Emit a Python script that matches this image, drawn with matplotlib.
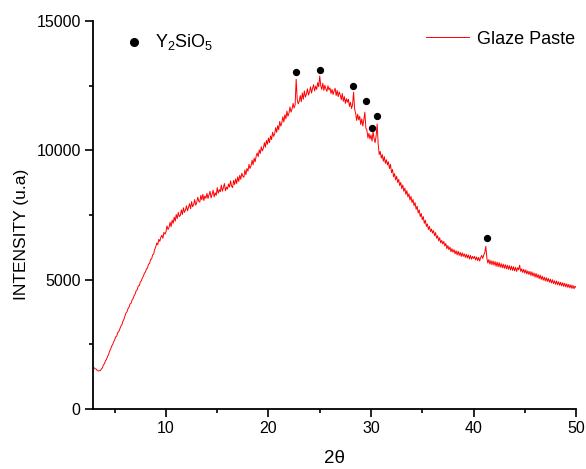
import numpy as np
import matplotlib
matplotlib.use("Agg")
import matplotlib.pyplot as plt
from matplotlib.ticker import MultipleLocator

plt.rcParams['font.family'] = ['Liberation Sans', 'DejaVu Sans']
plt.rcParams['mathtext.fontset'] = 'custom'
plt.rcParams['mathtext.rm'] = 'Liberation Sans'
plt.rcParams['mathtext.it'] = 'Liberation Sans'
plt.rcParams['mathtext.default'] = 'regular'

# 2-theta grid (0.1 deg steps from 3.0 to 50.0)
two_theta = np.round(np.arange(3.0, 50.05, 0.1), 1)

# intensity, one row per degree
intensity = [
    1590, 1550, 1540, 1490, 1470, 1480, 1480, 1550, 1590, 1700,   # 3
    1750, 1860, 1920, 2030, 2100, 2240, 2310, 2430, 2490, 2600,   # 4
    2670, 2790, 2820, 2960, 2990, 3100, 3200, 3260, 3390, 3470,   # 5
    3600, 3710, 3760, 3880, 3940, 4060, 4090, 4220, 4270, 4390,   # 6
    4450, 4580, 4610, 4760, 4770, 4910, 4960, 5070, 5140, 5250,   # 7
    5300, 5420, 5450, 5600, 5620, 5780, 5800, 5960, 5990, 6170,   # 8
    6260, 6420, 6350, 6560, 6480, 6640, 6720, 6600, 6830, 6760,   # 9
    6850, 7080, 6940, 7020, 7220, 7050, 7300, 7180, 7420, 7260,   # 10
    7520, 7360, 7600, 7440, 7480, 7700, 7520, 7780, 7600, 7690,   # 11
    7860, 7660, 7800, 7940, 7740, 8020, 7820, 7900, 8100, 7880,   # 12
    7980, 8190, 8040, 8000, 8260, 8090, 8300, 8060, 8240, 8150,   # 13
    8340, 8140, 8280, 8420, 8160, 8300, 8460, 8200, 8360, 8260,   # 14
    8560, 8340, 8480, 8400, 8660, 8420, 8560, 8720, 8440, 8580,   # 15
    8500, 8700, 8580, 8820, 8620, 8560, 8840, 8680, 8900, 8720,   # 16
    8980, 8800, 9040, 8880, 9120, 9000, 8960, 9240, 9060, 9300,   # 17
    9200, 9460, 9300, 9400, 9620, 9440, 9700, 9560, 9780, 9900,   # 18
    9760, 10020, 9880, 10140, 9980, 10080, 10300, 10120, 10380, 10240,  # 19
    10480, 10300, 10560, 10420, 10700, 10540, 10640, 10880, 10700, 10960,  # 20
    10800, 11120, 10940, 11060, 11300, 11100, 11380, 11220, 11520, 11320,  # 21
    11440, 11680, 11480, 11600, 11820, 11640, 11760, 12750, 11980, 11800,  # 22
    11900, 12120, 11880, 12220, 11980, 12300, 12060, 12180, 12380, 12140,  # 23
    12260, 12460, 12220, 12400, 12540, 12300, 12480, 12360, 12620, 12460,  # 24
    12880, 12500, 12360, 12600, 12320, 12520, 12380, 12280, 12500, 12340,  # 25
    12420, 12200, 12360, 12160, 12300, 12400, 12120, 12320, 12080, 12260,  # 26
    12140, 11960, 12200, 11900, 12080, 11820, 12000, 11860, 11980, 11700,  # 27
    11860, 11620, 11760, 12250, 11600, 11440, 11160, 11400, 11180, 11320,  # 28
    11000, 11220, 10940, 11180, 11480, 10860, 10780, 10480, 10660, 10440,  # 29
    10600, 10360, 10720, 10460, 10300, 10560, 11020, 10240, 9840, 9960,   # 30
    9700, 9840, 9580, 9760, 9500, 9640, 9440, 9560, 9300, 9460,   # 31
    9140, 9260, 8980, 9100, 8860, 9000, 8760, 8880, 8640, 8760,   # 32
    8520, 8660, 8420, 8540, 8300, 8440, 8200, 8320, 8080, 8220,   # 33
    7980, 8100, 7860, 7980, 7720, 7840, 7580, 7700, 7440, 7560,   # 34
    7320, 7440, 7180, 7300, 7060, 7160, 6940, 7060, 6860, 6960,   # 35
    6800, 6900, 6700, 6820, 6600, 6700, 6500, 6620, 6420, 6520,   # 36
    6380, 6480, 6300, 6400, 6200, 6320, 6160, 6260, 6080, 6200,   # 37
    6060, 6160, 6000, 6120, 5960, 6100, 5940, 6060, 5900, 6040,   # 38
    5900, 6000, 5860, 5980, 5840, 5960, 5800, 5940, 5790, 5900,   # 39
    5820, 5900, 5760, 5880, 5740, 5860, 5720, 5860, 5940, 5820,   # 40
    5960, 6050, 6290, 5840, 5640, 5780, 5600, 5740, 5580, 5720,   # 41
    5560, 5700, 5520, 5680, 5500, 5660, 5480, 5620, 5460, 5600,   # 42
    5440, 5580, 5420, 5560, 5400, 5540, 5380, 5520, 5360, 5500,   # 43
    5340, 5480, 5320, 5460, 5380, 5560, 5320, 5420, 5280, 5400,   # 44
    5250, 5380, 5220, 5340, 5200, 5320, 5160, 5300, 5140, 5260,   # 45
    5100, 5240, 5080, 5200, 5040, 5180, 5010, 5140, 4980, 5100,   # 46
    4950, 5080, 4930, 5050, 4900, 5020, 4870, 5000, 4850, 4960,   # 47
    4820, 4950, 4800, 4920, 4780, 4900, 4760, 4880, 4740, 4860,   # 48
    4720, 4840, 4700, 4820, 4680, 4800, 4660, 4780, 4650, 4750,   # 49
    4700,                                                          # 50
]

# Y2SiO5 peak markers
peak_x = [22.7, 25.0, 28.25, 29.5, 30.6, 30.1, 41.27]
peak_y = [13020, 13100, 12480, 11900, 11320, 10850, 6630]

fig = plt.figure(figsize=(5.86, 4.69), dpi=100)
ax = fig.add_axes([0.159, 0.128, 0.824, 0.827])

line, = ax.plot(two_theta, intensity, color='#ff0000', lw=0.7, label='Glaze Paste')
sc = ax.scatter(peak_x, peak_y, s=18, color='black', zorder=3, label=r'Y$_2$SiO$_5$')

ax.set_xlim(2.9, 50)
ax.set_ylim(0, 15000)
ax.xaxis.set_major_locator(MultipleLocator(10))
ax.xaxis.set_minor_locator(MultipleLocator(5))
ax.yaxis.set_major_locator(MultipleLocator(5000))
ax.yaxis.set_minor_locator(MultipleLocator(2500))

for s in ['top', 'right']:
    ax.spines[s].set_visible(False)
for s in ['left', 'bottom']:
    ax.spines[s].set_linewidth(1.3)

ax.tick_params(axis='both', which='major', direction='out', length=6, width=1.2,
               labelsize=11.5, pad=3)
ax.tick_params(axis='both', which='minor', direction='out', length=3, width=1.2)

ax.set_xlabel('2θ', fontsize=13.5)
ax.set_ylabel('INTENSITY (u.a)', fontsize=12.5)
ax.xaxis.set_label_coords(0.5, -0.105)
ax.yaxis.set_label_coords(-0.133, 0.45)

leg1 = ax.legend(handles=[sc], loc='upper left', bbox_to_anchor=(0.014, 1.015),
                 frameon=False, fontsize=13, handletextpad=0.15, markerscale=1.3)
ax.add_artist(leg1)
ax.legend(handles=[line], loc='upper right', bbox_to_anchor=(1.031, 1.017),
          frameon=False, fontsize=13, handlelength=2.4, handletextpad=0.4)

fig.savefig('out.png', dpi=100)
